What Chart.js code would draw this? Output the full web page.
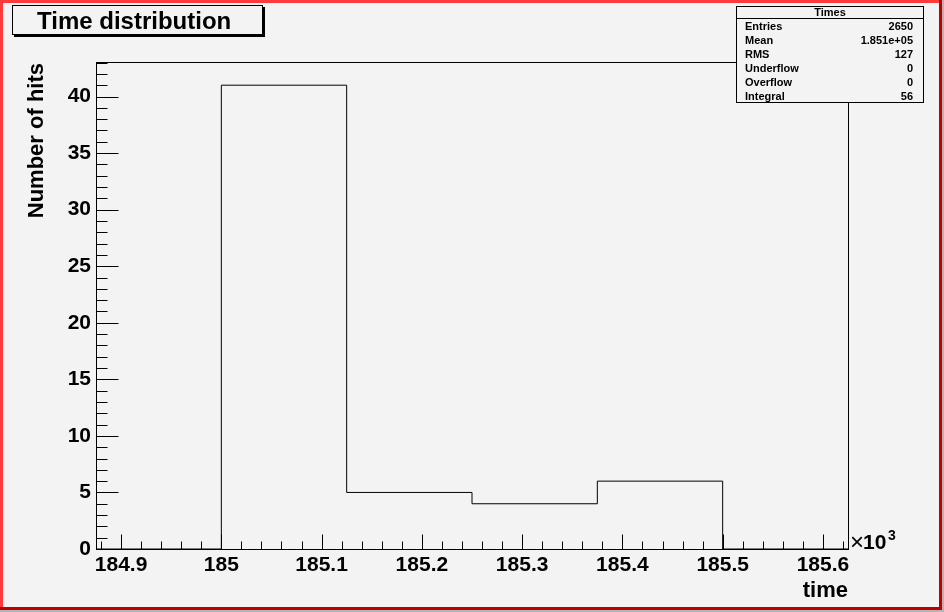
<!DOCTYPE html>
<html>
<head>
<meta charset="utf-8">
<script src="https://cdn.jsdelivr.net/npm/chart.js@4.4.1/dist/chart.umd.min.js"></script>
<style>
    html, body { margin: 0; padding: 0; background: #b4b4b4; }
    canvas { display: block; }
</style>
</head>
<body>
<canvas id="grafico" width="944" height="612"></canvas>
<script>
// bordes de los bins (tiempo) y cuentas por bin
const binEdges = [184875, 185000, 185125, 185250, 185375, 185500, 185625];
const counts = [0, 41, 5, 4, 6, 0];
const yMax = 43.05;

// caja de estadisticas
const statNames = ['Entries', 'Mean', 'RMS', 'Underflow', 'Overflow', 'Integral'];
const statValues = ['2650', '1.851e+05', '127', '0', '0', '56'];

const FONT = '"Liberation Sans", Arial, Helvetica, sans-serif';
const BG = '#f3f3f3';

// puntos del contorno del histograma (escalonado)
const puntos = binEdges.map(function (x, i) {
    return { x: x, y: counts[Math.min(i, counts.length - 1)] };
});

const fondoPlugin = {
    id: 'fondo',
    beforeDraw: function (chart) {
        const ctx = chart.ctx;
        const w = chart.width, h = chart.height;
        ctx.save();
        ctx.fillStyle = '#b4b4b4';
        ctx.fillRect(0, 0, w, h);
        ctx.fillStyle = 'rgb(192,0,0)';
        ctx.fillRect(0, 0, w - 2, h - 2);
        ctx.fillStyle = 'rgb(255,58,58)';
        ctx.fillRect(0, 0, w - 5, 3);
        ctx.fillRect(0, 0, 3, h - 5);
        ctx.fillStyle = BG;
        ctx.fillRect(3, 3, w - 8, h - 8);
        ctx.restore();
    }
};

const marcoPlugin = {
    id: 'marco',
    afterDraw: function (chart) {
        const ctx = chart.ctx;
        const a = chart.chartArea;
        const xs = chart.scales.x, ys = chart.scales.y;
        const L = Math.round(a.left) + 0.5, R = Math.round(a.right) + 0.5;
        const T = Math.round(a.top) + 0.5, B = Math.round(a.bottom) + 0.5;
        ctx.save();
        ctx.strokeStyle = '#000';
        ctx.lineWidth = 1;
        ctx.strokeRect(L, T, R - L, B - T);

        // marcas del eje x (mayores cada 100, menores cada 20)
        ctx.beginPath();
        for (let v = 184880; v <= 185625; v += 20) {
            const px = Math.round(xs.getPixelForValue(v)) + 0.5;
            const len = (v % 100 === 0) ? 15 : 8;
            ctx.moveTo(px, B);
            ctx.lineTo(px, B - len);
        }
        // marcas del eje y (mayores cada 5, menores cada 1)
        for (let v = 0; v <= yMax; v += 1) {
            const py = Math.round(ys.getPixelForValue(v)) + 0.5;
            const len = (v % 5 === 0) ? 22 : 11;
            ctx.moveTo(L, py);
            ctx.lineTo(L + len, py);
        }
        ctx.stroke();

        ctx.fillStyle = '#000';
        // titulo eje y
        ctx.save();
        ctx.translate(43, 63);
        ctx.rotate(-Math.PI / 2);
        ctx.font = 'bold 22px ' + FONT;
        ctx.textAlign = 'right';
        ctx.textBaseline = 'alphabetic';
        ctx.fillText('Number of hits', 0, 0);
        ctx.restore();

        // titulo eje x
        ctx.font = 'bold 22px ' + FONT;
        ctx.textAlign = 'right';
        ctx.textBaseline = 'alphabetic';
        ctx.fillText('time', 848, 597);

        // exponente x10^3
        ctx.textAlign = 'left';
        ctx.font = '24px ' + FONT;
        ctx.fillText('\u00d7', 850, 550);
        ctx.font = 'bold 21px ' + FONT;
        ctx.fillText('10', 863, 549);
        ctx.font = 'bold 14px ' + FONT;
        ctx.fillText('3', 888, 540);

        // caja del titulo con sombra
        ctx.fillStyle = '#000';
        ctx.fillRect(14, 7, 251, 30);
        ctx.fillStyle = BG;
        ctx.fillRect(12, 5, 251, 30);
        ctx.strokeRect(12.5, 5.5, 250, 29);
        ctx.fillStyle = '#000';
        ctx.font = 'bold 24px ' + FONT;
        ctx.textAlign = 'left';
        ctx.fillText('Time distribution', 37, 29);

        // caja de estadisticas
        ctx.fillStyle = BG;
        ctx.fillRect(736, 6, 187, 96);
        ctx.strokeRect(736.5, 6.5, 187, 96);
        ctx.beginPath();
        ctx.moveTo(736.5, 18.5);
        ctx.lineTo(923.5, 18.5);
        ctx.stroke();
        ctx.fillStyle = '#000';
        ctx.font = 'bold 11px ' + FONT;
        ctx.textAlign = 'center';
        ctx.fillText('Times', 830, 16);
        statNames.forEach(function (nombre, i) {
            const yb = 30 + i * 14;
            ctx.textAlign = 'left';
            ctx.fillText(nombre, 745, yb);
            ctx.textAlign = 'right';
            ctx.fillText(statValues[i], 913, yb);
        });
        ctx.restore();
    }
};

const ctx = document.getElementById('grafico').getContext('2d');
const grafico = new Chart(ctx, {
    type: 'line',
    data: {
        datasets: [{
            label: 'Times',
            data: puntos,
            stepped: true,
            borderColor: '#000',
            borderWidth: 1,
            pointRadius: 0,
            fill: false,
            clip: false
        }]
    },
    options: {
        responsive: false,
        animation: false,
        layout: { padding: { left: 0, top: 62, right: 96, bottom: 0 } },
        plugins: {
            legend: { display: false },
            title: { display: false },
            tooltip: { enabled: false }
        },
        scales: {
            x: {
                type: 'linear',
                min: binEdges[0],
                max: binEdges[binEdges.length - 1],
                grid: { display: false, drawTicks: false, tickLength: 0 },
                border: { display: false },
                afterFit: function (scale) { scale.height = 63; },
                ticks: {
                    stepSize: 100,
                    includeBounds: false,
                    maxRotation: 0,
                    autoSkip: false,
                    padding: 4,
                    color: '#000',
                    font: { family: FONT, size: 21, weight: 'bold' },
                    callback: function (v) { return String(Math.round(v / 100) / 10); }
                }
            },
            y: {
                type: 'linear',
                min: 0,
                max: yMax,
                grid: { display: false, drawTicks: false, tickLength: 0 },
                border: { display: false },
                afterFit: function (scale) { scale.width = 96; },
                ticks: {
                    stepSize: 5,
                    includeBounds: false,
                    padding: 5,
                    color: '#000',
                    font: { family: FONT, size: 21, weight: 'bold' }
                }
            }
        }
    },
    plugins: [fondoPlugin, marcoPlugin]
});
</script>
</body>
</html>
